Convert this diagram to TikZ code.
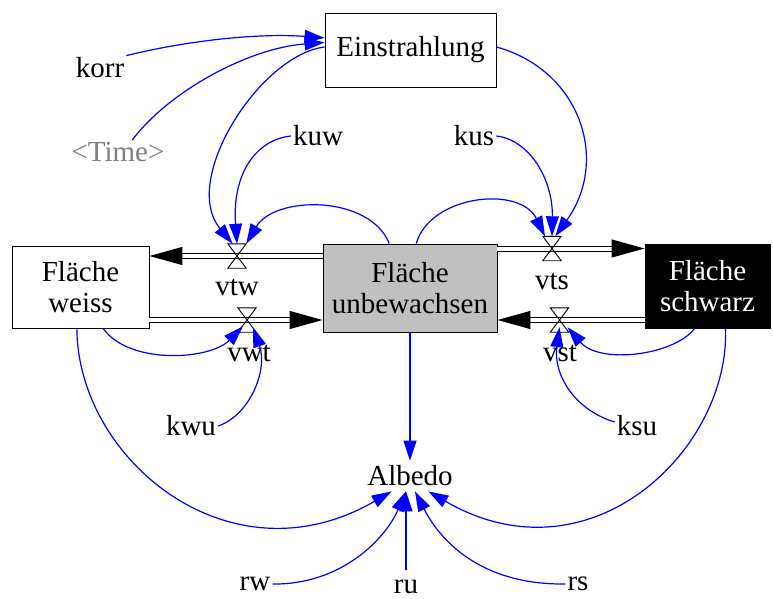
\documentclass[tikz,border=0pt]{standalone}
\usepackage{fontspec}
\setmainfont{Liberation Serif}
\usetikzlibrary{arrows.meta,calc}
\definecolor{silver}{RGB}{192,192,192}
\definecolor{timegray}{RGB}{128,128,128}
\begin{document}
\begin{tikzpicture}[x=1pt,y=-1pt,
  every node/.style={font=\fontsize{29}{31}\selectfont, inner sep=0pt},
  box/.style={draw=black, line width=0.9pt, align=center},
  var/.style={inner sep=2pt},
  valve/.style={minimum width=18pt, minimum height=24pt, inner sep=0pt},
  pipe/.style={draw=black, line width=1pt, double=white, double distance=4pt, -{Triangle[length=33pt,width=18pt]}},
  link/.style={draw=blue, line width=1.2pt, -{Triangle[length=20pt,width=13pt]}},
]
\useasboundingbox (0,0) rectangle (773,599);

% stocks and boxes
\node[box, minimum width=171pt, minimum height=74pt] (ein) at (410.5,50) {Einstrahlung};
\node[box, minimum width=137pt, minimum height=82pt] (weiss) at (80.5,287.5) {Fläche\\weiss};
\node[box, fill=silver, minimum width=174pt, minimum height=88pt] (unb) at (410,288) {Fläche\\unbewachsen};
\node[box, fill=black, text=white, minimum width=125pt, minimum height=84pt] (schw) at (707.5,286) {Fläche\\schwarz};

% valves
\node[valve] (vtw) at (237,256) {};
\node[valve] (vwt) at (247,320) {};
\node[valve] (vts) at (552,248.5) {};
\node[valve] (vst) at (559.5,320) {};

% variables
\node[var] (korr) at (100,68) {korr};
\node[var, text=timegray] (time) at (118,152) {\textless Time\textgreater};
\node[var] (kuw) at (318,136) {kuw};
\node[var] (kus) at (474,136) {kus};
\node[var] (kwu) at (191,426) {kwu};
\node[var] (ksu) at (637,426) {ksu};
\node[inner sep=5pt] (albedo) at (410,476) {Albedo};
\node[var] (rw) at (255,584) {rw};
\node[var] (ru) at (406,587) {ru};
\node[var] (rs) at (578,584) {rs};

% flow labels
\node[var] (lvtw) at (237,287) {vtw};
\node[var] (lvwt) at (249,353) {vwt};
\node[var] (lvts) at (552,281) {vts};
\node[var] (lvst) at (560,353) {vst};

% pipes
\draw[pipe] (unb.west |- vtw) -- (weiss.east |- vtw);
\draw[pipe] (weiss.east |- vwt) -- (unb.west |- vwt);
\draw[pipe] (unb.east |- vts) -- (schw.west |- vts);
\draw[pipe] (schw.west |- vst) -- (unb.east |- vst);
\foreach \v in {vtw,vwt,vts,vst}
  \draw[line width=0.9pt] (\v.north west) -- (\v.north east) -- (\v.south west) -- (\v.south east) -- cycle;

% links
\draw[link] (korr.north east) .. controls (190,40) and (260,33) .. (ein.172);
\draw[link] (time.40) .. controls (170,90) and (250,48) .. (ein.175);
\draw[link] (ein.178) .. controls (260,55) and (180,180) .. (vtw.110);
\draw[link] (kuw.west) .. controls (255,140) and (232,175) .. (vtw.north);
\draw[link] (unb.115) .. controls (370,195) and (275,195) .. (vtw.north east);
\draw[link] (unb.82) .. controls (430,195) and (520,185) .. (vts.120);
\draw[link] (ein.2) .. controls (580,70) and (610,160) .. (vts.75);
\draw[link] (kus.east) .. controls (530,140) and (553,180) .. (vts.north);
\draw[link] (weiss.299) .. controls (130,365) and (210,360) .. ($(vwt.south)+(-4,-6)$);
\draw[link] (kwu.east) .. controls (250,415) and (268,370) .. ($(vwt.south)+(6,-5)$);
\draw[link] (schw.-107) .. controls (675,355) and (600,365) .. ($(vst.south)+(8,-5)$);
\draw[link] (ksu.170) .. controls (575,410) and (553,375) .. ($(vst.south)+(0,-5)$);
\draw[link] (unb.south) -- (albedo.north);
\draw[link] (weiss.265) .. controls (78,460) and (230,585) .. (albedo.-140);
\draw[link] (schw.-67) .. controls (730,450) and (590,585) .. (albedo.-40);
\draw[link] (rw.east) .. controls (340,585) and (385,540) .. (albedo.-105);
\draw[link, shorten <=8pt] (ru.north) -- (ru.north |- albedo.south);
\draw[link] (rs.west) .. controls (480,585) and (440,540) .. (albedo.-72);
\end{tikzpicture}
\end{document}
